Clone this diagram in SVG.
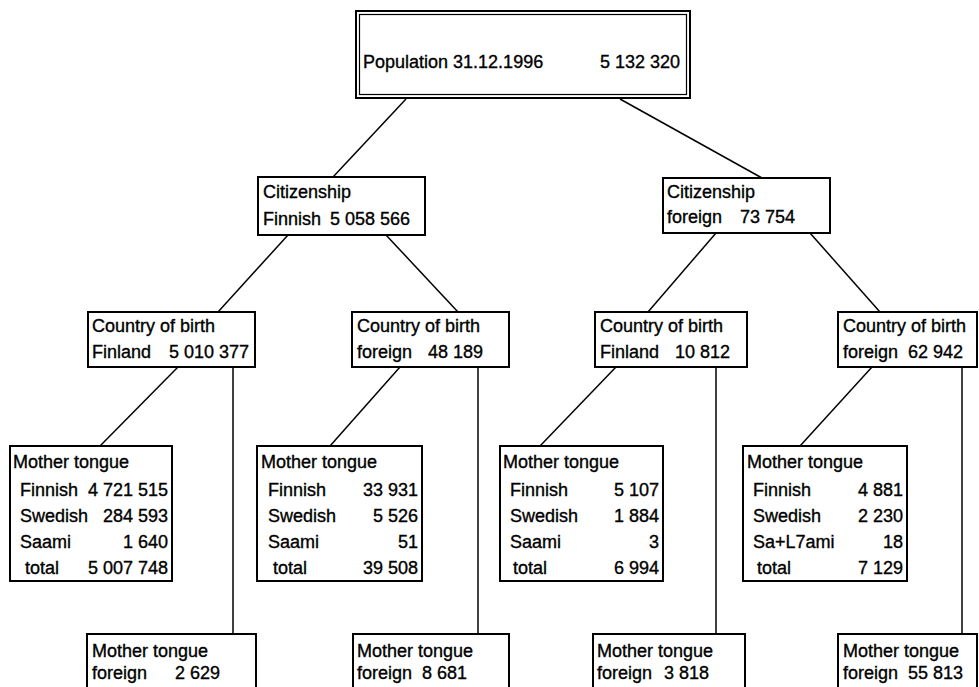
<svg xmlns="http://www.w3.org/2000/svg" width="979" height="687" viewBox="0 0 979 687">
<style>
.bx{fill:#fff;stroke:#000;stroke-width:2}
.t{font-family:"Liberation Sans",Arial,sans-serif;font-size:18px;fill:#000;stroke:#000;stroke-width:0.35}
.r{text-anchor:end}
.ln{stroke:#000;stroke-width:1.5;fill:none}
</style>
<rect width="979" height="687" fill="#fff"/>
<g id="connectors">
<line class="ln" x1="406" y1="99" x2="333" y2="177"/>
<line class="ln" x1="620" y1="99" x2="762" y2="178"/>
<line class="ln" x1="288" y1="235" x2="218" y2="312"/>
<line class="ln" x1="386" y1="235" x2="458" y2="312"/>
<line class="ln" x1="716" y1="233" x2="648" y2="312"/>
<line class="ln" x1="810" y1="233" x2="880" y2="312"/>
<line class="ln" x1="178" y1="367" x2="100" y2="446"/>
<line class="ln" x1="400" y1="367" x2="330" y2="446"/>
<line class="ln" x1="616" y1="367" x2="540" y2="446"/>
<line class="ln" x1="872" y1="367" x2="800" y2="446"/>
<line class="ln" x1="233" y1="367" x2="233" y2="634"/>
<line class="ln" x1="478" y1="367" x2="478" y2="634"/>
<line class="ln" x1="716" y1="367" x2="716" y2="634"/>
<line class="ln" x1="962" y1="367" x2="962" y2="634"/>
</g>
<g id="population">
<rect class="bx" x="356" y="11" width="334" height="87"/>
<rect x="359.5" y="14.5" width="327" height="80" fill="none" stroke="#000" stroke-width="1.2"/>
<text class="t" x="363" y="68">Population 31.12.1996</text>
<text class="t" x="600" y="68">5 132 320</text>
</g>
<g id="cit-finnish">
<rect class="bx" x="258" y="177" width="167" height="58"/>
<text class="t" x="263" y="198">Citizenship</text>
<text class="t" x="263" y="225">Finnish</text>
<text class="t" x="330" y="225">5 058 566</text>
</g>
<g id="cit-foreign">
<rect class="bx" x="663" y="178" width="167" height="55"/>
<text class="t" x="667" y="198">Citizenship</text>
<text class="t" x="667" y="223">foreign</text>
<text class="t" x="740" y="223">73 754</text>
</g>
<g id="cob-1">
<rect class="bx" x="88" y="312" width="167" height="55"/>
<text class="t" x="92" y="332">Country of birth</text>
<text class="t" x="92" y="358">Finland</text>
<text class="t r" x="249" y="358">5 010 377</text>
</g>
<g id="cob-2">
<rect class="bx" x="352" y="312" width="157" height="55"/>
<text class="t" x="357" y="332">Country of birth</text>
<text class="t" x="357" y="358">foreign</text>
<text class="t" x="428" y="358">48 189</text>
</g>
<g id="cob-3">
<rect class="bx" x="595" y="312" width="152" height="55"/>
<text class="t" x="600" y="332">Country of birth</text>
<text class="t" x="600" y="358">Finland</text>
<text class="t" x="675" y="358">10 812</text>
</g>
<g id="cob-4">
<rect class="bx" x="838" y="312" width="139" height="55"/>
<text class="t" x="843" y="332">Country of birth</text>
<text class="t" x="843" y="358">foreign</text>
<text class="t" x="908" y="358">62 942</text>
</g>
<g id="mt-1">
<rect class="bx" x="10" y="446" width="162" height="135"/>
<text class="t" x="13" y="468">Mother tongue</text>
<text class="t" x="20" y="496">Finnish</text><text class="t r" x="168" y="496">4 721 515</text>
<text class="t" x="20" y="522">Swedish</text><text class="t r" x="168" y="522">284 593</text>
<text class="t" x="20" y="548">Saami</text><text class="t r" x="168" y="548">1 640</text>
<text class="t" x="25" y="574">total</text><text class="t r" x="168" y="574">5 007 748</text>
</g>
<g id="mt-2">
<rect class="bx" x="257" y="446" width="165" height="135"/>
<text class="t" x="261" y="468">Mother tongue</text>
<text class="t" x="268" y="496">Finnish</text><text class="t r" x="418" y="496">33 931</text>
<text class="t" x="268" y="522">Swedish</text><text class="t r" x="418" y="522">5 526</text>
<text class="t" x="268" y="548">Saami</text><text class="t r" x="418" y="548">51</text>
<text class="t" x="273" y="574">total</text><text class="t r" x="418" y="574">39 508</text>
</g>
<g id="mt-3">
<rect class="bx" x="500" y="446" width="163" height="135"/>
<text class="t" x="503" y="468">Mother tongue</text>
<text class="t" x="510" y="496">Finnish</text><text class="t r" x="659" y="496">5 107</text>
<text class="t" x="510" y="522">Swedish</text><text class="t r" x="659" y="522">1 884</text>
<text class="t" x="510" y="548">Saami</text><text class="t r" x="659" y="548">3</text>
<text class="t" x="513" y="574">total</text><text class="t r" x="659" y="574">6 994</text>
</g>
<g id="mt-4">
<rect class="bx" x="743" y="446" width="164" height="135"/>
<text class="t" x="747" y="468">Mother tongue</text>
<text class="t" x="753" y="496">Finnish</text><text class="t r" x="903" y="496">4 881</text>
<text class="t" x="753" y="522">Swedish</text><text class="t r" x="903" y="522">2 230</text>
<text class="t" x="753" y="548">Sa+L7ami</text><text class="t r" x="903" y="548">18</text>
<text class="t" x="757" y="574">total</text><text class="t r" x="903" y="574">7 129</text>
</g>
<g id="mtf-1">
<path class="bx" d="M87,690 V634 H256 V690"/>
<text class="t" x="92" y="657">Mother tongue</text>
<text class="t" x="92" y="679">foreign</text>
<text class="t" x="175" y="679">2 629</text>
</g>
<g id="mtf-2">
<path class="bx" d="M353,690 V634 H509 V690"/>
<text class="t" x="357" y="657">Mother tongue</text>
<text class="t" x="357" y="679">foreign</text>
<text class="t" x="422" y="679">8 681</text>
</g>
<g id="mtf-3">
<path class="bx" d="M593,690 V634 H745 V690"/>
<text class="t" x="597" y="657">Mother tongue</text>
<text class="t" x="597" y="679">foreign</text>
<text class="t" x="664" y="679">3 818</text>
</g>
<g id="mtf-4">
<path class="bx" d="M838,690 V634 H977 V690"/>
<text class="t" x="843" y="657">Mother tongue</text>
<text class="t" x="843" y="679">foreign</text>
<text class="t" x="908" y="679">55 813</text>
</g>
</svg>
